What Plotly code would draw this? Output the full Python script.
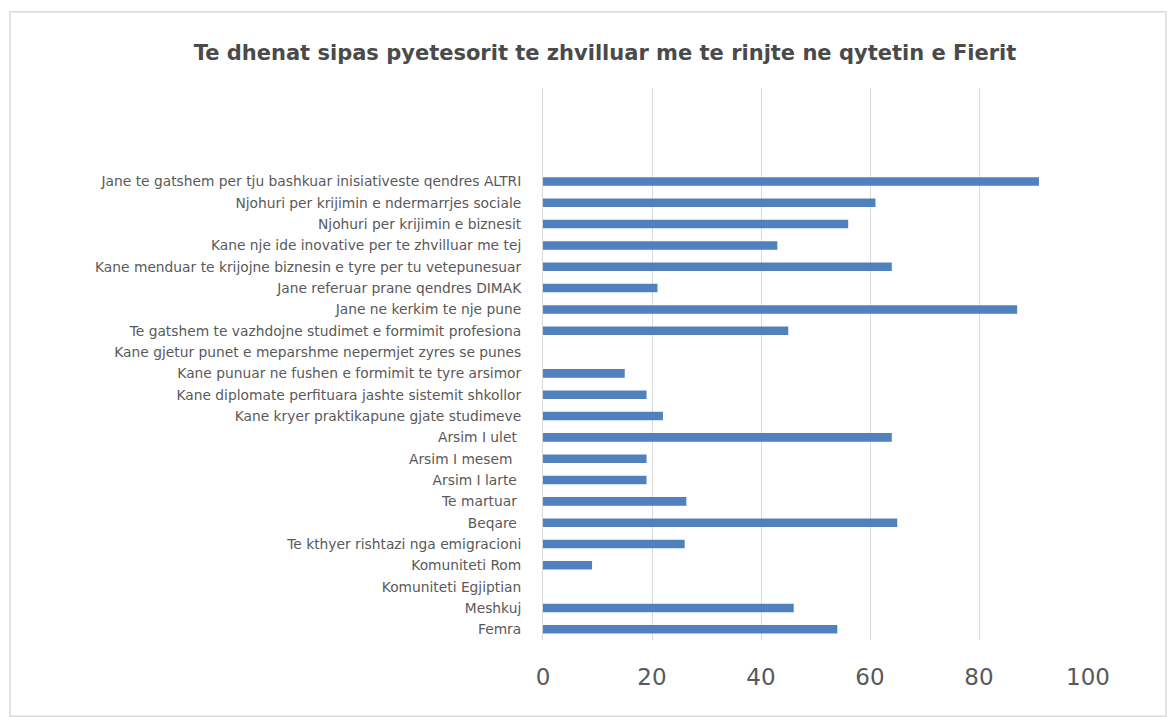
import plotly.graph_objects as go

categories = [
    "Femra",
    "Meshkuj",
    "Komuniteti Egjiptian",
    "Komuniteti Rom",
    "Te kthyer rishtazi nga emigracioni",
    "Beqare\u00a0",
    "Te martuar\u00a0",
    "Arsim I larte\u00a0",
    "Arsim I mesem\u00a0\u00a0",
    "Arsim I ulet\u00a0",
    "Kane kryer praktikapune gjate studimeve",
    "Kane diplomate perfituara jashte sistemit shkollor",
    "Kane punuar ne fushen e formimit te tyre arsimor",
    "Kane gjetur punet e meparshme nepermjet zyres se punes",
    "Te gatshem te vazhdojne studimet e formimit profesiona",
    "Jane ne kerkim te nje pune",
    "Jane referuar prane qendres DIMAK",
    "Kane menduar te krijojne biznesin e tyre per tu vetepunesuar",
    "Kane nje ide inovative per te zhvilluar me tej",
    "Njohuri per krijimin e biznesit",
    "Njohuri per krijimin e ndermarrjes sociale",
    "Jane te gatshem per tju bashkuar inisiativeste qendres ALTRI",
]
values = [54, 46, 0, 9, 26, 65, 26.3, 19, 19, 64, 22, 19, 15, 0, 45, 87, 21, 64, 43, 56, 61, 91]
x_ticks = [0, 20, 40, 60, 80, 100]

fig = go.Figure(
    go.Bar(
        x=values,
        y=categories,
        orientation="h",
        marker=dict(color="#4F81BD", line=dict(width=0)),
    )
)

fig.update_layout(
    width=1168,
    height=717,
    paper_bgcolor="white",
    plot_bgcolor="white",
    margin=dict(l=543, r=80, t=88, b=77),
    bargap=0.6,
    showlegend=False,
    title=dict(
        text="Te dhenat sipas pyetesorit te zhvilluar me te rinjte ne qytetin e Fierit",
        x=0.518,
        xanchor="center",
        y=0.926,
        yanchor="middle",
        font=dict(family="DejaVu Sans", size=21, color="#4a4a4a", weight=600),
    ),
    font=dict(family="DejaVu Sans", color="#595959"),
)

fig.update_xaxes(
    range=[0, 100],
    tickvals=x_ticks,
    showgrid=True,
    gridcolor="#D9D9D9",
    gridwidth=1,
    zeroline=False,
    showline=False,
    tickfont=dict(family="DejaVu Sans", size=23, color="#595959"),
    ticklabelstandoff=21,
)

fig.update_yaxes(
    type="category",
    categoryorder="array",
    categoryarray=categories,
    range=[-0.5, 25.38],
    showgrid=False,
    showline=True,
    linecolor="#D9D9D9",
    linewidth=1,
    ticks="",
    tickfont=dict(family="DejaVu Sans", size=13.8, color="#595959"),
    ticklabelstandoff=18,
)

# outer chart border
fig.add_shape(
    type="rect",
    xref="paper",
    yref="paper",
    x0=-0.978,
    x1=1.143,
    y0=-0.138,
    y1=1.138,
    line=dict(color="#D9D9D9", width=1.5),
    fillcolor="rgba(0,0,0,0)",
    layer="below",
)

fig.write_html(
    "out.html",
    config={"displayModeBar": False},
    post_script="document.body.style.margin='0';",
)
